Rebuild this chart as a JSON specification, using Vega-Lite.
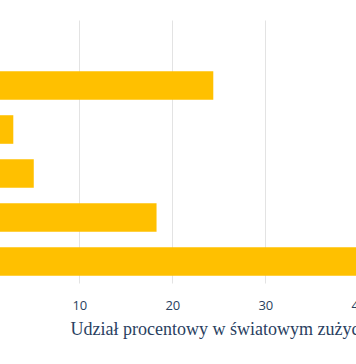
{
  "$schema": "https://vega.github.io/schema/vega-lite/v6.json",
  "width": 377,
  "height": 263,
  "autosize": {"type": "none"},
  "padding": {"left": 0, "top": 20, "right": -21, "bottom": 81},
  "background": "white",
  "data": {
    "values": [
      {"kraj": "Inne", "udzial": 1.0},
      {"kraj": "Europa", "udzial": 24.4},
      {"kraj": "Afryka", "udzial": 2.9},
      {"kraj": "Ameryka Południowa", "udzial": 5.1},
      {"kraj": "Ameryka Północna", "udzial": 18.3},
      {"kraj": "Azja", "udzial": 45.0}
    ]
  },
  "mark": {"type": "bar", "color": "#FFC000", "clip": true},
  "encoding": {
    "y": {
      "field": "kraj",
      "type": "nominal",
      "sort": null,
      "scale": {"paddingInner": 0.35, "paddingOuter": 0.165},
      "axis": {"labels": false, "ticks": false, "domain": false, "title": null, "grid": false}
    },
    "x": {
      "field": "udzial",
      "type": "quantitative",
      "scale": {"domain": [1.47, 42], "zero": false, "nice": false},
      "axis": {
        "values": [10, 20, 30, 40],
        "grid": true,
        "gridColor": "#e3e3e3",
        "gridWidth": 1,
        "domain": false,
        "ticks": false,
        "labelPadding": 16,
        "labelFont": "Open Sans",
        "labelFontSize": 13,
        "labelColor": "#2a3f5f",
        "labelFlush": false,
        "title": "Udział procentowy w światowym zużyciu energii (%)",
        "titleFont": "Liberation Serif",
        "titleFontSize": 18,
        "titleFontWeight": "normal",
        "titleColor": "#2a3f5f",
        "titleAnchor": "start",
        "titleAlign": "left",
        "titleBaseline": "alphabetic",
        "titleX": 70,
        "titleY": 51
      }
    }
  },
  "config": {"view": {"stroke": null}}
}
